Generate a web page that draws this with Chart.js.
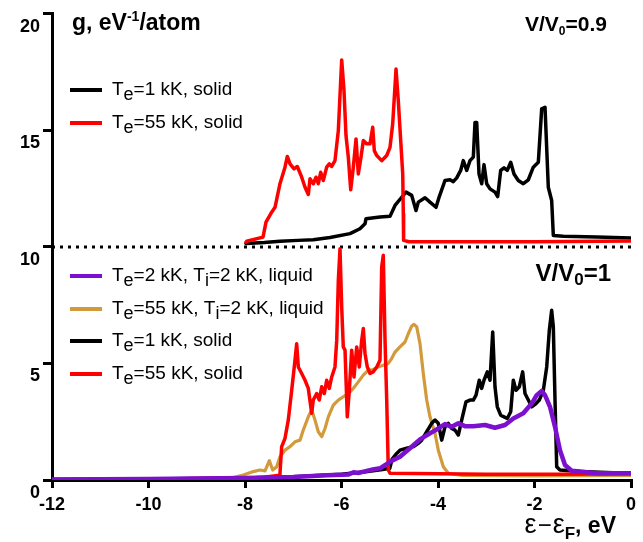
<!DOCTYPE html>
<html><head><meta charset="utf-8">
<script src="https://cdn.jsdelivr.net/npm/chart.js@4/dist/chart.umd.min.js"></script>
<style>html,body{margin:0;padding:0;background:#fff}#wrap{width:643px;height:542px;position:relative}</style>
</head><body><div id="wrap"><canvas id="c" width="643" height="542"></canvas></div>
<script>
// ---------- data (g in eV^-1/atom vs energy eps-epsF in eV) ----------
const X_TICKS = [-12, -10, -8, -6, -4, -2, 0];
const Y_TICKS = [0, 5, 10, 15, 20];
const UPPER_OFFSET = 10; // upper panel (V/V0=0.9) is shifted up by 10

// V/V0 = 0.9, Te = 1 kK, solid
const upBlackX = [-7.98,-7.6,-7.275,-6.9,-6.584,-6.238,-5.824,-5.617,-5.513,-5.492,-5.202,-4.995,-4.891,-4.752,-4.663,-4.545,-4.456,-4.408,-4.269,-4.166,-4.041,-3.973,-3.855,-3.751,-3.683,-3.612,-3.530,-3.476,-3.405,-3.337,-3.268,-3.233,-3.198,-3.150,-3.094,-3.047,-2.991,-2.922,-2.819,-2.763,-2.701,-2.632,-2.564,-2.493,-2.425,-2.336,-2.232,-2.128,-2.025,-1.921,-1.851,-1.782,-1.714,-1.644,-1.610,-1.403,-0.711,0];
const upBlackY = [0.15,0.19,0.24,0.28,0.31,0.40,0.57,0.78,0.99,1.21,1.28,1.31,1.78,2.13,2.35,2.21,1.56,1.92,2.11,1.92,1.70,2.16,2.85,2.88,2.80,2.96,3.28,3.70,3.28,3.70,3.85,5.34,5.34,3.13,2.71,3.53,2.71,2.49,2.35,2.16,3.28,3.39,3.28,3.63,3.13,2.85,2.71,2.88,3.42,3.63,5.92,5.99,2.56,1.99,0.49,0.46,0.42,0.38];

// V/V0 = 0.9, Te = 55 kK, solid
const upRedX = [-7.98,-7.965,-7.627,-7.565,-7.447,-7.378,-7.275,-7.171,-7.123,-7.067,-6.984,-6.916,-6.825,-6.756,-6.688,-6.653,-6.584,-6.528,-6.481,-6.431,-6.377,-6.307,-6.253,-6.203,-6.135,-6.066,-5.996,-5.948,-5.907,-5.859,-5.809,-5.755,-5.699,-5.652,-5.596,-5.548,-5.478,-5.409,-5.353,-5.320,-5.270,-5.167,-5.063,-4.995,-4.939,-4.870,-4.823,-4.773,-4.731,-4.719,-4.713,-4.6,-2,0];
const upRedY = [0.2,0.24,0.42,1.06,1.49,1.70,2.71,3.42,3.88,3.56,3.35,3.45,2.99,2.56,2.25,2.92,2.71,2.99,2.71,3.20,2.85,3.42,3.56,3.45,3.70,4.99,8.02,6.70,4.78,3.85,2.45,3.42,4.63,3.13,3.85,4.56,4.42,4.42,5.13,4.13,3.92,3.70,3.92,4.27,5.28,7.63,6.27,4.56,3.13,1.42,0.28,0.22,0.22,0.25];

// V/V0 = 1, Te = 55 kK, solid
const redX = [-12,-10,-8,-7.6,-7.289,-7.275,-7.240,-7.171,-7.103,-7.032,-6.964,-6.929,-6.895,-6.825,-6.756,-6.688,-6.618,-6.585,-6.514,-6.460,-6.410,-6.356,-6.307,-6.253,-6.203,-6.135,-6.099,-6.066,-6.031,-5.996,-5.963,-5.927,-5.880,-5.838,-5.789,-5.741,-5.685,-5.631,-5.581,-5.548,-5.513,-5.465,-5.409,-5.341,-5.270,-5.202,-5.167,-5.134,-5.098,-5.063,-5.030,-4.995,-3,-1.5,0];
const redY = [0.02,0.04,0.08,0.12,0.2,0.29,1.43,1.79,2.57,3.85,5.14,5.85,4.85,4.57,4.28,3.93,2.86,3.43,3.71,3.43,4.00,3.71,4.28,3.93,4.42,4.85,6.00,8.57,9.92,7.42,5.71,5.57,2.71,3.85,5.57,4.42,5.71,4.85,6.00,6.50,5.43,4.85,4.57,4.64,4.85,5.14,9.14,9.64,6.00,3.43,0.43,0.29,0.25,0.25,0.27];

// V/V0 = 1, Te = 55 kK, Ti = 2 kK, liquid
const goldX = [-12,-10,-9,-8.311,-8.035,-7.828,-7.689,-7.585,-7.496,-7.426,-7.343,-7.275,-7.171,-7.067,-6.964,-6.860,-6.792,-6.688,-6.618,-6.549,-6.481,-6.410,-6.342,-6.273,-6.170,-6.066,-5.963,-5.859,-5.755,-5.652,-5.548,-5.445,-5.341,-5.237,-5.134,-5.030,-4.960,-4.891,-4.788,-4.684,-4.615,-4.546,-4.497,-4.441,-4.373,-4.305,-4.234,-4.166,-4.062,-3.994,-3.890,-3.787,-3.5,-2,0];
const goldY = [0.0,0.01,0.03,0.07,0.21,0.36,0.43,0.39,0.83,0.43,0.57,1.00,1.28,1.43,1.64,1.71,2.14,2.71,3.00,2.57,2.07,1.86,2.21,2.71,3.21,3.43,3.57,3.71,3.93,4.21,4.50,4.71,4.74,4.85,4.92,5.00,5.21,5.49,5.71,5.92,6.28,6.60,6.68,6.57,5.85,4.57,3.43,2.71,2.00,1.28,0.57,0.29,0.2,0.18,0.2];

// V/V0 = 1, Te = 1 kK, solid
const blackX = [-12,-10,-8,-7,-6,-5.5,-5.15,-5.0,-4.95,-4.856,-4.788,-4.649,-4.512,-4.409,-4.338,-4.234,-4.131,-4.062,-3.994,-3.923,-3.855,-3.787,-3.716,-3.648,-3.579,-3.509,-3.420,-3.337,-3.268,-3.212,-3.144,-3.094,-3.047,-2.978,-2.922,-2.866,-2.819,-2.771,-2.701,-2.632,-2.564,-2.493,-2.439,-2.383,-2.315,-2.245,-2.197,-2.128,-2.058,-1.969,-1.900,-1.817,-1.747,-1.693,-1.644,-1.610,-1.575,-1.540,-1.472,-1.057,-0.367,0];
const blackY = [0.02,0.04,0.09,0.14,0.25,0.35,0.45,0.5,0.9,1.14,1.28,1.36,1.43,1.57,1.71,2.07,2.43,2.57,2.43,1.71,2.28,2.43,2.21,2.14,1.93,2.57,3.35,3.43,3.43,3.64,4.28,3.93,4.28,4.64,4.28,6.35,4.00,3.14,2.78,2.71,2.64,2.93,4.28,3.85,4.00,4.64,3.71,3.43,3.14,3.28,3.43,3.85,4.85,6.42,7.28,6.57,3.43,0.57,0.43,0.36,0.31,0.31];

// V/V0 = 1, Te = 2 kK, Ti = 2 kK, liquid
const purpleX = [-12,-10,-8,-7,-6.3,-6.0,-5.85,-5.75,-5.65,-5.5,-5.35,-5.202,-4.995,-4.788,-4.581,-4.373,-4.166,-3.994,-3.855,-3.716,-3.579,-3.440,-3.268,-3.026,-2.819,-2.611,-2.439,-2.232,-2.058,-1.954,-1.851,-1.782,-1.679,-1.575,-1.472,-1.368,-1.229,-1.057,-0.711,0];
const purpleY = [0.02,0.04,0.09,0.13,0.2,0.22,0.24,0.33,0.30,0.38,0.45,0.50,0.78,1.00,1.36,1.74,2.00,2.21,2.40,2.28,2.43,2.31,2.31,2.36,2.24,2.36,2.64,2.86,3.28,3.64,3.82,3.64,3.14,2.28,1.28,0.64,0.40,0.36,0.29,0.29];

const DIVIDER_Y = 10;

const upperLegend = [
  {label: 'T_e=1 kK, solid', color: '#000000'},
  {label: 'T_e=55 kK, solid', color: '#ff0000'}
];
const lowerLegend = [
  {label: 'T_e=2 kK, T_i=2 kK, liquid', color: '#7d0fcf'},
  {label: 'T_e=55 kK, T_i=2 kK, liquid', color: '#d29a3b'},
  {label: 'T_e=1 kK, solid', color: '#000000'},
  {label: 'T_e=55 kK, solid', color: '#ff0000'}
];

// ---------- build ----------
const FONT = '"Liberation Sans", Arial, Helvetica, sans-serif';
function pts(xs, ys, off) { return xs.map((x, i) => ({x: x, y: ys[i] + (off || 0)})); }
function ds(data, color, width, order, extra) {
  return Object.assign({data: data, borderColor: color, backgroundColor: color, borderWidth: width,
    pointRadius: 0, tension: 0, fill: false, order: order, borderJoinStyle: 'round', borderCapStyle: 'round'}, extra || {});
}

const datasets = [
  ds(pts(purpleX, purpleY), '#7d0fcf', 4.5, 0),
  ds(pts(redX, redY), '#ff0000', 3.5, 1),
  ds(pts(blackX, blackY), '#000000', 3.5, 2),
  ds(pts(goldX, goldY), '#d29a3b', 3.2, 3),
  ds(pts(upRedX, upRedY, UPPER_OFFSET), '#ff0000', 3.5, 4),
  ds(pts(upBlackX, upBlackY, UPPER_OFFSET), '#000000', 3.5, 5),
  ds([{x: X_TICKS[0], y: DIVIDER_Y}, {x: X_TICKS[X_TICKS.length - 1], y: DIVIDER_Y}], '#000000', 3, 6,
     {borderDash: [3, 5], borderCapStyle: 'butt'})
];

function drawMarkup(ctx, text, x, y, size, weight, subSize, subDy) {
  // "_c" => subscript single character
  let i = 0;
  while (i < text.length) {
    if (text[i] === '_' && i + 1 < text.length) {
      ctx.font = weight + ' ' + subSize + 'px ' + FONT;
      ctx.fillText(text[i + 1], x, y + subDy);
      x += ctx.measureText(text[i + 1]).width;
      i += 2;
    } else {
      let j = i;
      while (j < text.length && text[j] !== '_') j++;
      const s = text.slice(i, j);
      ctx.font = weight + ' ' + size + 'px ' + FONT;
      ctx.fillText(s, x, y);
      x += ctx.measureText(s).width;
      i = j;
    }
  }
  return x;
}
function runs(ctx, list, x, y, measureOnly) {
  for (const r of list) {
    ctx.font = r.f;
    if (!measureOnly) ctx.fillText(r.t, x, y + (r.dy || 0));
    x += ctx.measureText(r.t).width + (r.gap || 0);
  }
  return x;
}
function runsRight(ctx, list, right, y) {
  const w = runs(ctx, list, 0, y, true);
  runs(ctx, list, right - w, y, false);
}

const textPlugin = {
  id: 'texts',
  afterDraw(chart) {
    const ctx = chart.ctx;
    ctx.save();
    ctx.fillStyle = '#000';
    ctx.textBaseline = 'alphabetic';
    ctx.textAlign = 'left';
    // legends
    function legend(items, ys) {
      items.forEach((it, k) => {
        const y = ys[k];
        ctx.strokeStyle = it.color; ctx.lineWidth = 4; ctx.lineCap = 'butt';
        ctx.beginPath(); ctx.moveTo(70, y); ctx.lineTo(102, y); ctx.stroke();
        ctx.fillStyle = '#000';
        drawMarkup(ctx, it.label, 112, y + 5, 19, 'normal', 18, 5);
      });
    }
    legend(upperLegend, [90, 123]);
    legend(lowerLegend, [276, 309, 341, 374]);
    // y title
    runs(ctx, [
      {t: 'g, eV', f: 'bold 23px ' + FONT},
      {t: '-1', f: 'bold 14px ' + FONT, dy: -9},
      {t: '/atom', f: 'bold 23px ' + FONT}
    ], 72, 30);
    // panel labels
    runsRight(ctx, [
      {t: 'V/V', f: 'bold 21px ' + FONT},
      {t: '0', f: 'bold 12px ' + FONT, dy: 4},
      {t: '=0.9', f: 'bold 21px ' + FONT}
    ], 607, 31);
    runsRight(ctx, [
      {t: 'V/V', f: 'bold 24px ' + FONT},
      {t: '0', f: 'bold 17px ' + FONT, dy: 4},
      {t: '=1', f: 'bold 24px ' + FONT}
    ], 611, 281);
    // x title
    runsRight(ctx, [
      {t: 'ε', f: 'normal 27px ' + FONT, gap: 1},
      {t: '−', f: 'normal 24px ' + FONT, gap: 1},
      {t: 'ε', f: 'normal 27px ' + FONT},
      {t: 'F', f: 'bold 17px ' + FONT, dy: 6},
      {t: ', eV', f: 'bold 23px ' + FONT}
    ], 616, 533);
    ctx.restore();
  }
};

new Chart(document.getElementById('c'), {
  type: 'line',
  data: {datasets: datasets},
  options: {
    responsive: false, animation: false, devicePixelRatio: 1,
    layout: {padding: {top: 13, right: 12, bottom: 0, left: 0}},
    plugins: {legend: {display: false}, tooltip: {enabled: false}, title: {display: false}},
    scales: {
      x: {
        type: 'linear', min: X_TICKS[0], max: X_TICKS[X_TICKS.length - 1],
        afterBuildTicks: s => { s.ticks = X_TICKS.map(v => ({value: v})); },
        afterFit: s => { s.height = 62; },
        ticks: {color: '#000', font: {family: FONT, size: 18, weight: 'bold'}, padding: 6, maxRotation: 0, autoSkip: false},
        grid: {display: true, drawOnChartArea: false, drawTicks: true, tickLength: 8, color: '#000', lineWidth: 3},
        border: {display: true, color: '#000', width: 3}
      },
      y: {
        type: 'linear', min: Y_TICKS[0], max: Y_TICKS[Y_TICKS.length - 1],
        afterBuildTicks: s => { s.ticks = Y_TICKS.map(v => ({value: v})); },
        afterFit: s => { s.width = 52; },
        ticks: {color: '#000', font: {family: FONT, size: 18, weight: 'bold'}, padding: 3, labelOffset: 13, autoSkip: false},
        grid: {display: true, drawOnChartArea: false, drawTicks: true, tickLength: 9, color: '#000', lineWidth: 3},
        border: {display: true, color: '#000', width: 3}
      }
    }
  },
  plugins: [textPlugin]
});
</script>
</body></html>
